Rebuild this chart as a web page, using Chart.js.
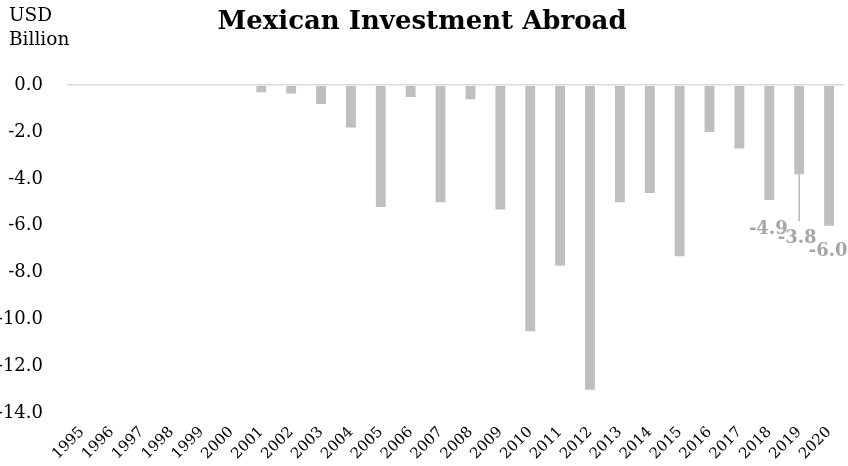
<!DOCTYPE html>
<html>
<head>
<meta charset="utf-8">
<title>Mexican Investment Abroad</title>
<script src="https://cdn.jsdelivr.net/npm/chart.js@4.4.1/dist/chart.umd.min.js"></script>
<style>
  body { margin: 0; background: #fff; }
  #wrap { position: relative; width: 848px; height: 466px; overflow: hidden; }
  .unit {
    position: absolute; left: 9px; top: 3px;
    font: 18.5px 'DejaVu Serif', 'Liberation Serif', serif;
    line-height: 24px; color: #000;
  }
</style>
</head>
<body>
<div id="wrap">
  <canvas id="chart" width="848" height="466"></canvas>
  <div class="unit">USD<br>Billion</div>
</div>
<script>
const years = ['1995', '1996', '1997', '1998', '1999', '2000', '2001', '2002', '2003',
  '2004', '2005', '2006', '2007', '2008', '2009', '2010', '2011', '2012', '2013',
  '2014', '2015', '2016', '2017', '2018', '2019', '2020'];

// USD billion, outflows shown as negative
const investment = [0, 0, 0, 0, 0, 0, -0.3, -0.35, -0.8,
  -1.8, -5.2, -0.5, -5.0, -0.6, -5.3, -10.5, -7.7, -13.0, -5.0,
  -4.6, -7.3, -2.0, -2.7, -4.9, -3.8, -6.0];

const yTicks = [0, -2, -4, -6, -8, -10, -12, -14];

// only the last three years get a value label
const labelledYears = ['2018', '2019', '2020'];

const SERIF = "'DejaVu Serif', 'Liberation Serif', serif";
const BAR = '#bfbfbf';
const LABEL = '#a6a6a6';

// label placement relative to the bar end (px), 2019 gets a leader line
const labelStyle = {
  '2018': { dx: -1, dy: 29, leader: false },
  '2019': { dx: -2, dy: 64, leader: true },
  '2020': { dx: -1, dy: 26, leader: false },
};

const valueLabels = {
  id: 'valueLabels',
  afterDatasetsDraw(chart) {
    const ctx = chart.ctx;
    const meta = chart.getDatasetMeta(0);
    ctx.save();
    ctx.font = `bold 18px ${SERIF}`;
    ctx.fillStyle = LABEL;
    ctx.strokeStyle = LABEL;
    ctx.textAlign = 'center';
    ctx.textBaseline = 'middle';
    labelledYears.forEach(yr => {
      const i = years.indexOf(yr);
      const bar = meta.data[i];
      const st = labelStyle[yr];
      const tx = bar.x + st.dx;
      const ty = bar.y + st.dy;
      if (st.leader) {
        ctx.lineWidth = 1.2;
        ctx.beginPath();
        ctx.moveTo(bar.x, bar.y);
        ctx.lineTo(bar.x, ty - 17);
        ctx.stroke();
      }
      ctx.fillText(investment[i].toFixed(1), tx, ty);
    });
    ctx.restore();
  }
};

new Chart(document.getElementById('chart'), {
  type: 'bar',
  data: {
    labels: years,
    datasets: [{
      data: investment,
      backgroundColor: BAR,
      borderWidth: 0,
      barPercentage: 0.33,
      categoryPercentage: 1,
    }],
  },
  options: {
    responsive: false,
    animation: false,
    layout: { padding: { left: 0, right: 4, top: 0, bottom: 1 } },
    plugins: {
      legend: { display: false },
      tooltip: { enabled: false },
      title: {
        display: true,
        text: 'Mexican Investment Abroad',
        color: '#000',
        font: { family: SERIF, size: 26, weight: 'bold' },
        padding: { top: 7, bottom: 47 },
      },
    },
    scales: {
      x: {
        grid: { display: false },
        border: { display: false },
        ticks: {
          color: '#000',
          font: { family: SERIF, size: 15 },
          minRotation: 45,
          maxRotation: 45,
          autoSkip: false,
          padding: 2,
        },
      },
      y: {
        min: -14,
        max: 0,
        afterFit(scale) { scale.width = 67; },
        afterBuildTicks(scale) { scale.ticks = yTicks.map(v => ({ value: v })); },
        border: { display: false },
        grid: {
          drawTicks: false,
          lineWidth: 1.5,
          color: c => (c.tick && c.tick.value === 0 ? '#d9d9d9' : 'rgba(0,0,0,0)'),
        },
        ticks: {
          color: '#000',
          font: { family: SERIF, size: 18 },
          padding: 24,
          callback: v => v.toFixed(1),
        },
      },
    },
  },
  plugins: [valueLabels],
});
</script>
</body>
</html>
